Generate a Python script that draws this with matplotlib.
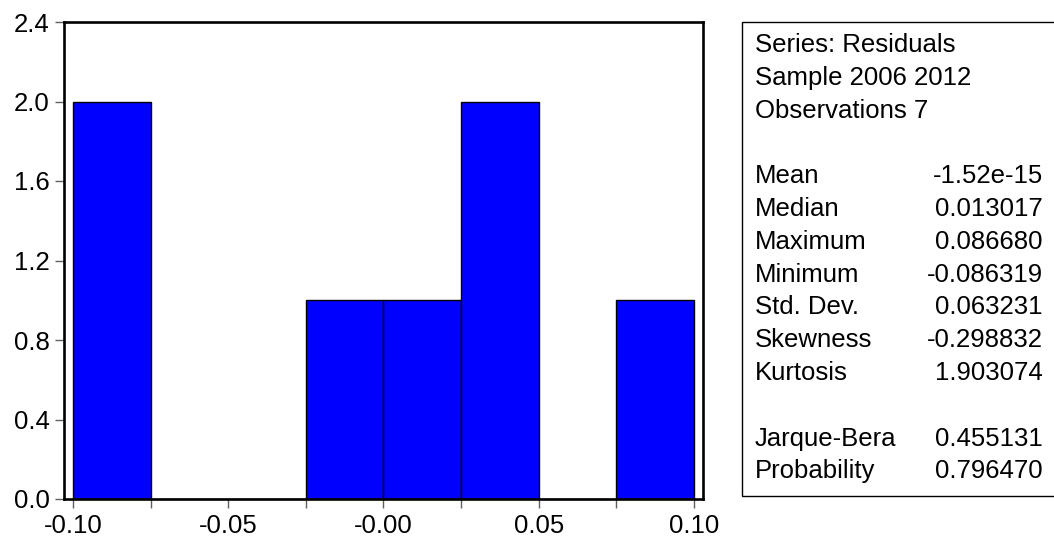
import matplotlib.pyplot as plt
import numpy as np
from matplotlib.patches import Rectangle

# histogram of residuals, 8 bins of width 0.025
bin_edges = [-0.100, -0.075, -0.050, -0.025, 0.000, 0.025, 0.050, 0.075, 0.100]
counts = [2, 0, 0, 1, 1, 2, 0, 1]

x_ticks = [-0.10, -0.05, 0.00, 0.05, 0.10]
x_ticklabels = ['-0.10', '-0.05', '-0.00', '0.05', '0.10']
y_ticks = [0.0, 0.4, 0.8, 1.2, 1.6, 2.0, 2.4]

header_lines = ['Series: Residuals', 'Sample 2006 2012', 'Observations 7']
stat_names = ['Mean', 'Median', 'Maximum', 'Minimum', 'Std. Dev.', 'Skewness', 'Kurtosis']
stat_values = ['-1.52e-15', '0.013017', '0.086680', '-0.086319', '0.063231', '-0.298832', '1.903074']
test_names = ['Jarque-Bera', 'Probability']
test_values = ['0.455131', '0.796470']

plt.rcParams['font.family'] = ['Liberation Sans', 'DejaVu Sans']
fs = 18.5

W, H = 1054, 546
fig = plt.figure(figsize=(W / 100, H / 100), dpi=100)
ax = fig.add_axes([64 / W, 1 - 499 / H, (703 - 64) / W, (499 - 22) / H])

widths = np.diff(bin_edges)
ax.bar(bin_edges[:-1], counts, width=widths, align='edge',
       color='#0000ff', edgecolor='black', linewidth=1)

ax.set_xlim(-0.1029, 0.1029)
ax.set_ylim(0, 2.4)
ax.set_xticks(x_ticks)
ax.set_xticklabels(x_ticklabels)
ax.set_xticks(bin_edges, minor=True)
ax.set_yticks(y_ticks)
ax.set_yticklabels([f'{v:.1f}' for v in y_ticks])
ax.tick_params(which='both', direction='out', length=6.5, width=1, color='#606060')
ax.tick_params(axis='x', labelsize=fs, pad=4)
ax.tick_params(axis='y', labelsize=fs, pad=4)
for s in ax.spines.values():
    s.set_linewidth(1.9)

# statistics box (right edge cut by the figure border)
fig.patches.append(Rectangle((742 / W, 1 - 496 / H), 400 / W, (496 - 22) / H,
                             transform=fig.transFigure, facecolor='white',
                             edgecolor='black', linewidth=1))

x_left = 755 / W
x_right = 1043 / W
y0 = 45
step = 32.8

rows = [(t, '') for t in header_lines] + [('', '')] + \
       list(zip(stat_names, stat_values)) + [('', '')] + \
       list(zip(test_names, test_values))
for i, (name, val) in enumerate(rows):
    y = 1 - (y0 + i * step) / H
    if name:
        fig.text(x_left, y, name, fontsize=fs, ha='left', va='center')
    if val:
        fig.text(x_right, y, val, fontsize=fs, ha='right', va='center')

fig.savefig('out.png', dpi=100)
